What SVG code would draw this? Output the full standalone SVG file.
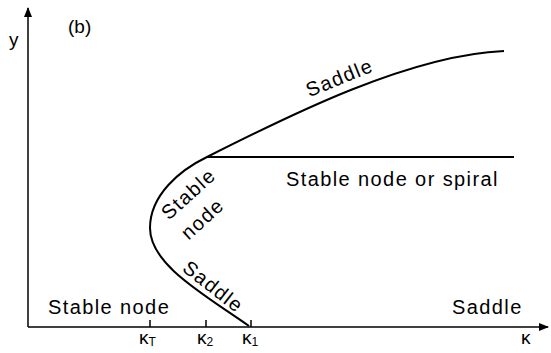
<svg xmlns="http://www.w3.org/2000/svg" width="551" height="353" viewBox="0 0 551 353">
<style>
.ax{stroke:#000;stroke-width:1.5;fill:none}
.cv{stroke:#000;stroke-width:2;fill:none}
text{font-family:"Liberation Sans",Arial,sans-serif;font-size:20px;fill:#000;letter-spacing:1.4px}
.sm{font-size:19px;letter-spacing:0}
.sub{font-size:12px}
</style>
<defs>
<marker id="arr" markerWidth="10" markerHeight="8" refX="9" refY="4" orient="auto" markerUnits="userSpaceOnUse">
<path d="M0,0 L10,4 L0,8 Z" fill="#000"/>
</marker>
</defs>
<g id="axes">
<line class="ax" x1="28" y1="327" x2="28" y2="8" marker-end="url(#arr)"/>
<line class="ax" x1="28" y1="327" x2="548" y2="327" marker-end="url(#arr)"/>
<line class="ax" x1="150" y1="320" x2="150" y2="327"/>
<line class="ax" x1="206" y1="320" x2="206" y2="327"/>
<line class="ax" x1="251" y1="320" x2="251" y2="327"/>
<text x="9" y="46" class="sm">y</text>
<text x="68" y="33" class="sm">(b)</text>
<text x="139" y="344" class="sm">κ<tspan class="sub" dy="2">T</tspan></text>
<text x="197" y="344" class="sm">κ<tspan class="sub" dy="2">2</tspan></text>
<text x="242" y="344" class="sm">κ<tspan class="sub" dy="2">1</tspan></text>
<text x="521" y="344" class="sm">κ</text>
</g>
<g id="connectors">
<path class="cv" d="M249,326 C205,295 150,265 150,228 C150,195 180,170 207,157 C290,115 410,55 504,51"/>
<line class="cv" x1="207" y1="157" x2="514" y2="157"/>
</g>
<g id="labels">
<text x="48" y="314">Stable node</text>
<text x="452" y="314">Saddle</text>
<text x="286" y="186">Stable node or spiral</text>
<text transform="translate(342,84) rotate(-22)" text-anchor="middle">Saddle</text>
<text transform="translate(193,199) rotate(-42)" text-anchor="middle">Stable</text>
<text transform="translate(207,224) rotate(-42)" text-anchor="middle">node</text>
<text transform="translate(209,292) rotate(38)" text-anchor="middle">Saddle</text>
</g>
</svg>
